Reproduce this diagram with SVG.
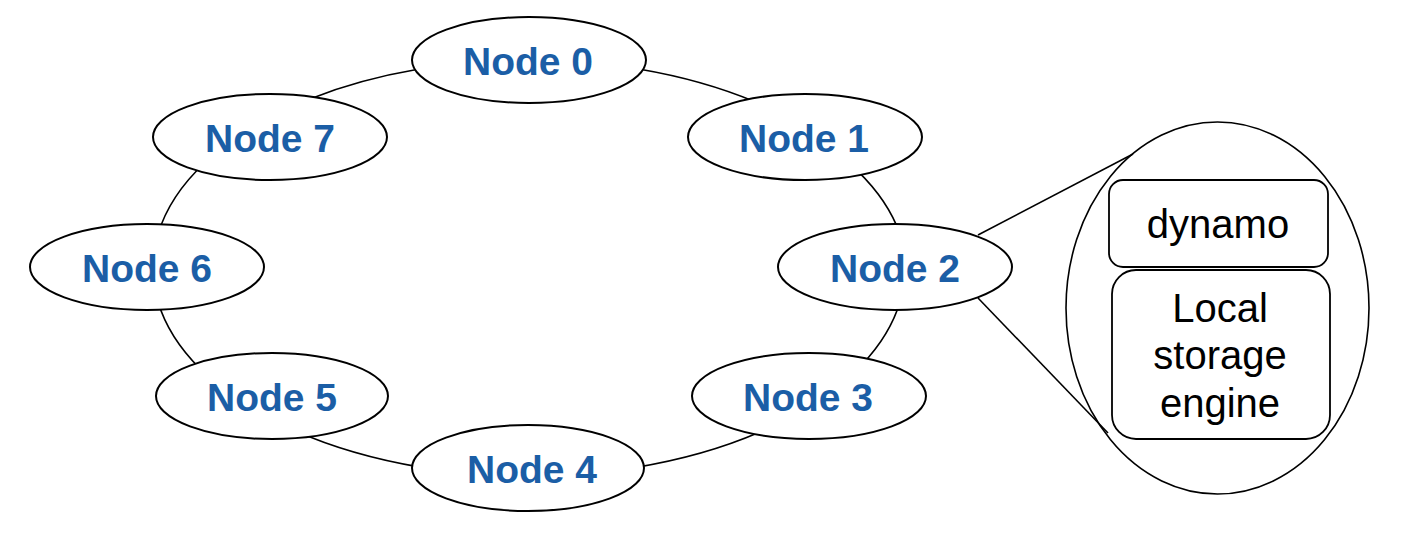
<svg xmlns="http://www.w3.org/2000/svg" width="1410" height="544" viewBox="0 0 1410 544">
<style>
.ring{fill:none;stroke:#000;stroke-width:1.6}
.node ellipse{fill:#fff;stroke:#000;stroke-width:2}
.node text{font-family:"Liberation Sans",Arial,sans-serif;font-weight:bold;font-size:39px;fill:#1B5EA6;text-anchor:middle}
.zoom{fill:none;stroke:#000;stroke-width:1.6}
.box{fill:#fff;stroke:#000;stroke-width:1.8}
.lbl{font-family:"Liberation Sans",Arial,sans-serif;font-size:40px;fill:#000;text-anchor:middle}
</style>
<rect width="1410" height="544" fill="#fff"/>
<g id="connectors">
<path class="ring" d="M640,69.3 A376,208 0 0 1 755,101.8"/>
<path class="ring" d="M858,171.4 A376,208 0 0 1 900,234.2"/>
<path class="ring" d="M900,301.8 A376,208 0 0 1 862,364.6"/>
<path class="ring" d="M760,432.1 A376,208 0 0 1 635,467.6"/>
<path class="ring" d="M420,467.1 A376,208 0 0 1 295,430.8"/>
<path class="ring" d="M200,368.7 A376,208 0 0 1 158,301.8"/>
<path class="ring" d="M158,234.2 A376,208 0 0 1 205,162.5"/>
<path class="ring" d="M310,98.9 A376,208 0 0 1 418,69.3"/>
<line class="zoom" x1="978" y1="235" x2="1133" y2="154"/>
<line class="zoom" x1="978" y1="298" x2="1108" y2="433"/>
</g>
<g id="node0" class="node"><ellipse cx="529" cy="60" rx="117" ry="43"/><text x="528" y="75">Node 0</text></g>
<g id="node1" class="node"><ellipse cx="805" cy="137" rx="117" ry="43"/><text x="804" y="152">Node 1</text></g>
<g id="node2" class="node"><ellipse cx="895" cy="267" rx="117" ry="43"/><text x="895" y="282">Node 2</text></g>
<g id="node3" class="node"><ellipse cx="809" cy="396" rx="117" ry="43"/><text x="808" y="411">Node 3</text></g>
<g id="node4" class="node"><ellipse cx="528" cy="468" rx="116" ry="43"/><text x="532" y="483">Node 4</text></g>
<g id="node5" class="node"><ellipse cx="272" cy="396" rx="116" ry="43"/><text x="272" y="411">Node 5</text></g>
<g id="node6" class="node"><ellipse cx="147" cy="267" rx="117" ry="43"/><text x="147" y="282">Node 6</text></g>
<g id="node7" class="node"><ellipse cx="270" cy="137" rx="117" ry="43"/><text x="270" y="152">Node 7</text></g>
<g id="node2-detail">
<ellipse class="zoom" cx="1217.5" cy="308" rx="151.5" ry="186"/>
<g id="dynamo"><rect class="box" x="1109" y="180" width="219" height="87" rx="14"/><text class="lbl" x="1218" y="238">dynamo</text></g>
<g id="storage"><rect class="box" x="1112" y="270" width="218" height="169" rx="24"/>
<text class="lbl" x="1220" y="322">Local</text>
<text class="lbl" x="1220" y="369">storage</text>
<text class="lbl" x="1220" y="417">engine</text></g>
</g>
</svg>
